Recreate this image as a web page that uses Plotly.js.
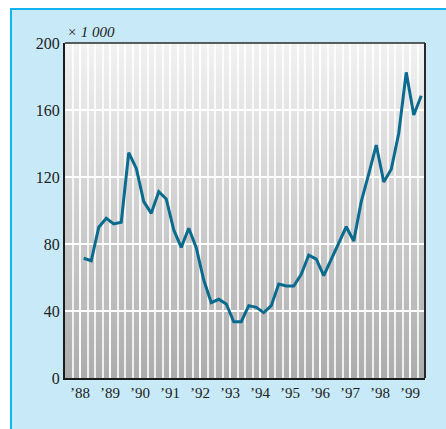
<!DOCTYPE html>
<html>
<head>
<meta charset="utf-8">
<script src="https://cdn.plot.ly/plotly-3.0.1.min.js"></script>
<style>
  html, body { margin: 0; padding: 0; background: #ffffff; }
  #chart { width: 446px; height: 429px; }
</style>
</head>
<body>
<div id="chart"></div>
<script>
// ---- data (quarterly values, thousands) ----
const firstYear = 1988;
const firstQuarter = 3; // series starts in Q3 1988
const years = [1988, 1989, 1990, 1991, 1992, 1993, 1994, 1995, 1996, 1997, 1998, 1999];
const yearLabels = ["\u201988", "\u201989", "\u201990", "\u201991", "\u201992", "\u201993",
                    "\u201994", "\u201995", "\u201996", "\u201997", "\u201998", "\u201999"];
const values = [
  71.5, 70,
  90, 95.3, 92, 93,
  134.5, 125.2, 105.3, 98.3,
  111.2, 106.9, 88.4, 78,
  89.4, 77.8, 58.5, 45,
  47, 44.2, 33.6, 33.6,
  43.2, 42.2, 39, 43.2,
  56.1, 54.9, 54.9, 61.9,
  73.4, 71, 61.1, 70.9,
  80.4, 90.3, 81.8, 105.3,
  121.8, 139.1, 117, 124.6,
  146.1, 182.5, 157, 168.5
];
const yTicks = [0, 40, 80, 120, 160, 200];
const unitLabel = "\u00d7 1 000";

// x position of each quarterly point: middle of its quarter
const xs = values.map((v, i) => firstYear + (firstQuarter - 1 + i + 0.5) / 4);

const serif = "Liberation Serif, Times New Roman, serif";

const gradSvg = "<svg xmlns='http://www.w3.org/2000/svg' width='10' height='100' viewBox='0 0 10 100' preserveAspectRatio='none'>" +
  "<defs><linearGradient id='g' x1='0' y1='0' x2='0' y2='1'>" +
  "<stop offset='0' stop-color='#f2f2f2'/><stop offset='1' stop-color='#acacac'/>" +
  "</linearGradient></defs><rect x='0' y='0' width='10' height='100' fill='url(#g)'/></svg>";

const trace = {
  type: "scatter",
  mode: "lines",
  x: xs,
  y: values,
  line: { color: "#0b6b8e", width: 3 },
  hoverinfo: "x+y"
};

const frameBlue = "#12b3ee";
const layout = {
  width: 446,
  height: 429,
  margin: { l: 65, r: 21, t: 43, b: 51, pad: 0 },
  paper_bgcolor: "#c8e9f8",
  plot_bgcolor: "#d8d8d8",
  showlegend: false,
  xaxis: {
    range: [1988, 2000],
    tickmode: "array",
    tickvals: years.map(y => y + 0.5),
    ticktext: yearLabels,
    ticks: "",
    showline: true,
    linecolor: "#1a1a1a",
    linewidth: 2,
    showgrid: true,
    gridcolor: "rgba(255,255,255,0.8)",
    gridwidth: 2,
    minor: { tickmode: "linear", tick0: 1988, dtick: 0.25, showgrid: true,
             gridcolor: "rgba(255,255,255,0.8)", gridwidth: 2, ticks: "" },
    zeroline: false,
    tickfont: { family: serif, size: 15, color: "#222" },
    fixedrange: true
  },
  yaxis: {
    range: [0, 200],
    tickmode: "array",
    tickvals: yTicks,
    ticks: "",
    showline: true,
    linecolor: "#1a1a1a",
    linewidth: 2,
    showgrid: true,
    gridcolor: "#ffffff",
    gridwidth: 1.5,
    zeroline: false,
    tickfont: { family: serif, size: 16, color: "#222" },
    fixedrange: true
  },
  images: [{
    source: "data:image/svg+xml;base64," + btoa(gradSvg),
    xref: "paper", yref: "paper",
    x: 0, y: 1, sizex: 1, sizey: 1,
    xanchor: "left", yanchor: "top",
    sizing: "stretch", layer: "below"
  }],
  shapes: [
    // white margin outside the light-blue frame (left and top)
    { type: "rect", xref: "paper", yref: "paper", x0: -0.3, x1: -0.1528, y0: -0.3, y1: 1.3,
      fillcolor: "#ffffff", line: { width: 0 }, layer: "below" },
    { type: "rect", xref: "paper", yref: "paper", x0: -0.3, x1: 1.3, y0: 1.1045, y1: 1.3,
      fillcolor: "#ffffff", line: { width: 0 }, layer: "below" },
    // bright blue frame border
    { type: "line", xref: "paper", yref: "paper", x0: -0.15, x1: -0.15, y0: -0.3, y1: 1.1045,
      line: { color: frameBlue, width: 2 } },
    { type: "line", xref: "paper", yref: "paper", x0: -0.1528, x1: 1.3, y0: 1.1015, y1: 1.1015,
      line: { color: frameBlue, width: 2 } },
    // plot frame top and right
    { type: "line", xref: "paper", yref: "paper", x0: 0, x1: 1, y0: 1, y1: 1,
      line: { color: "#2a2a2a", width: 1.3 } },
    { type: "line", xref: "paper", yref: "paper", x0: 1, x1: 1, y0: 0, y1: 1,
      line: { color: "#2a2a2a", width: 2 } }
  ],
  annotations: [{
    text: "<i>" + unitLabel + "</i>",
    xref: "paper", yref: "paper",
    x: 0, y: 1.033, xanchor: "left", yanchor: "middle",
    showarrow: false,
    font: { family: serif, size: 15, color: "#222" }
  }]
};

Plotly.newPlot("chart", [trace], layout, { displayModeBar: false, staticPlot: true });
</script>
</body>
</html>
